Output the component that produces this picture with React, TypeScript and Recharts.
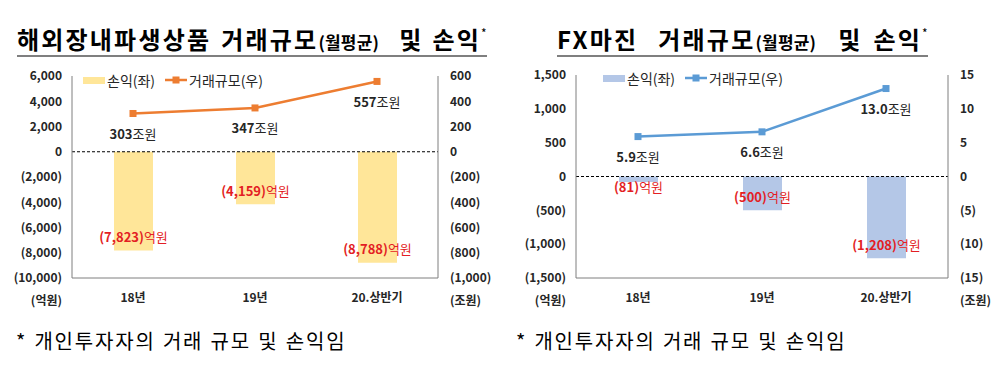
import React from 'react';
import { ComposedChart, Bar, Line, XAxis, YAxis, ReferenceLine, LabelList } from 'recharts';

const categories = ['18년', '19년', '20.상반기'];
const overseasPnl = [-7823, -4159, -8788];
const overseasVolume = [303, 347, 557];
const fxPnl = [-81, -500, -1208];
const fxVolume = [5.9, 6.6, 13.0];

const overseasLeftTicks = [-10000, -8000, -6000, -4000, -2000, 0, 2000, 4000, 6000];
const overseasRightTicks = [-1000, -800, -600, -400, -200, 0, 200, 400, 600];
const fxLeftTicks = [-1500, -1000, -500, 0, 500, 1000, 1500];
const fxRightTicks = [-15, -10, -5, 0, 5, 10, 15];

const FONT = '"Noto Sans CJK KR", "Noto Sans", sans-serif';
const RED = '#E31E24';

const fmtTick = (v: number) => {
  const s = Math.abs(v).toLocaleString('en-US');
  return v < 0 ? `(${s})` : s;
};

const SquareDot = (color: string) => (props: any) => {
  const { cx, cy } = props;
  if (cx == null || cy == null) return null;
  return <rect x={cx - 3.5} y={cy - 3.5} width={7} height={7} fill={color} />;
};

const BarLabel = (props: any) => {
  const { x, y, width, height, value } = props;
  const top = Math.min(y, y + height);
  const bottom = Math.max(y, y + height);
  const ly = Math.max(bottom - 13, top + 11);
  return (
    <text x={x + width / 2} y={ly} dy="0.35em" textAnchor="middle" fontFamily={FONT} fontSize={13} fill={RED}>
      <tspan fontWeight="bold">{`(${Math.abs(value).toLocaleString('en-US')})`}</tspan>
      <tspan>억원</tspan>
    </text>
  );
};

const makeLineLabel = (decimals: number) => (props: any) => {
  const { x, y, value } = props;
  return (
    <text x={x} y={y + 21} dy="0.35em" textAnchor="middle" fontFamily={FONT} fontSize={13} fill="#262626">
      <tspan fontWeight="bold">{Number(value).toFixed(decimals)}</tspan>
      <tspan>조원</tspan>
    </text>
  );
};

type PanelProps = {
  left: number;
  pnl: number[];
  volume: number[];
  leftTicks: number[];
  rightTicks: number[];
  barColor: string;
  lineColor: string;
  yAxisLeftWidth: number;
  yAxisRightWidth: number;
  top: number;
  decimals: number;
  legendLeft: number;
  legendTop: number;
};

const Panel = (p: PanelProps) => {
  const data = categories.map((c, i) => ({ name: c, pnl: p.pnl[i], volume: p.volume[i] }));
  const H = 320;
  const plotBottom = 278;
  return (
    <div style={{ position: 'absolute', left: p.left, top: 0, width: 500, height: H }}>
      <ComposedChart
        width={500}
        height={H}
        data={data}
        margin={{ top: p.top, right: 0, left: 0, bottom: H - plotBottom - 30 }}
      >
        <XAxis
          dataKey="name"
          tickLine={false}
          tickSize={0}
          tickMargin={15}
          height={30}
          axisLine={{ stroke: '#7f7f7f' }}
          tick={{ fontFamily: FONT, fontSize: 12, fontWeight: 'bold', fill: '#262626' }}
        />
        <YAxis
          yAxisId="left"
          orientation="left"
          domain={[p.leftTicks[0], p.leftTicks[p.leftTicks.length - 1]]}
          ticks={p.leftTicks}
          tickFormatter={fmtTick}
          width={p.yAxisLeftWidth}
          tickLine={false}
          tickSize={0}
          tickMargin={10}
          axisLine={{ stroke: '#7f7f7f' }}
          interval={0}
          allowDataOverflow
          tick={{ fontFamily: FONT, fontSize: 12, fontWeight: 'bold', fill: '#262626' }}
        />
        <YAxis
          yAxisId="right"
          orientation="right"
          domain={[p.rightTicks[0], p.rightTicks[p.rightTicks.length - 1]]}
          ticks={p.rightTicks}
          tickFormatter={fmtTick}
          width={p.yAxisRightWidth}
          tickLine={false}
          tickSize={0}
          tickMargin={12}
          axisLine={{ stroke: '#7f7f7f' }}
          interval={0}
          allowDataOverflow
          tick={{ fontFamily: FONT, fontSize: 12, fontWeight: 'bold', fill: '#262626', textAnchor: 'start' }}
        />
        <ReferenceLine yAxisId="left" y={0} stroke="#000" strokeDasharray="3 2" strokeWidth={1} />
        <Bar yAxisId="left" dataKey="pnl" fill={p.barColor} barSize={39} isAnimationActive={false}>
          <LabelList dataKey="pnl" content={BarLabel} />
        </Bar>
        <Line
          yAxisId="right"
          dataKey="volume"
          stroke={p.lineColor}
          strokeWidth={2.5}
          dot={SquareDot(p.lineColor)}
          activeDot={false}
          isAnimationActive={false}
        >
          <LabelList dataKey="volume" content={makeLineLabel(p.decimals)} />
        </Line>
      </ComposedChart>
      <div
        style={{
          position: 'absolute',
          left: p.legendLeft,
          top: p.legendTop,
          display: 'flex',
          alignItems: 'center',
          fontFamily: FONT,
          fontSize: 14,
          color: '#262626',
          whiteSpace: 'nowrap',
        }}
      >
        <span style={{ display: 'inline-block', width: 22, height: 7, background: p.barColor, marginRight: 2 }} />
        <span>손익(좌)</span>
        <svg width={22} height={10} style={{ marginLeft: 10, marginRight: 2 }}>
          <line x1={0} y1={5} x2={22} y2={5} stroke={p.lineColor} strokeWidth={2.5} />
          <rect x={7.5} y={1.5} width={7} height={7} fill={p.lineColor} />
        </svg>
        <span>거래규모(우)</span>
      </div>
      <div style={{ position: 'absolute', left: p.yAxisLeftWidth - 55, top: 291, width: 45, textAlign: 'right', fontFamily: FONT, fontSize: 12, fontWeight: 'bold', color: '#262626' }}>(억원)</div>
      <div style={{ position: 'absolute', left: 500 - p.yAxisRightWidth + 12, top: 291, fontFamily: FONT, fontSize: 12, fontWeight: 'bold', color: '#262626' }}>(조원)</div>
    </div>
  );
};

const Gap = ({ w }: { w: number }) => <span style={{ display: 'inline-block', width: w }} />;

const Title = ({ left, children }: { left: number; children: React.ReactNode }) => (
  <div
    style={{
      position: 'absolute',
      left,
      top: 26,
      fontFamily: FONT,
      fontWeight: 'bold',
      color: '#000',
      whiteSpace: 'nowrap',
      borderBottom: '2px solid #7f7f7f',
      lineHeight: '26px',
      display: 'flex',
      alignItems: 'baseline',
    }}
  >
    {children}
  </div>
);

const Big = ({ children }: { children: React.ReactNode }) => (
  <span style={{ fontSize: 24, letterSpacing: 2.2 }}>{children}</span>
);
const Small = ({ children }: { children: React.ReactNode }) => (
  <span style={{ fontSize: 17, letterSpacing: 0.2 }}>{children}</span>
);

const Star = () => (
  <span style={{ fontSize: 12, fontWeight: 'normal', alignSelf: 'flex-start', lineHeight: '14px' }}>*</span>
);

const footStyle: React.CSSProperties = {
  position: 'absolute',
  top: 328,
  lineHeight: '26px',
  fontFamily: FONT,
  fontSize: 20,
  letterSpacing: 1.8,
  wordSpacing: 1,
  color: '#000',
  whiteSpace: 'nowrap',
};

export default function App() {
  return (
    <div style={{ position: 'absolute', left: 0, top: 0, width: 1000, height: 369, background: '#fff', overflow: 'hidden' }}>
      <Title left={17}>
        <Big>해외장내파생상품</Big>
        <Gap w={10} />
        <Big>거래규모</Big>
        <Small>(월평균)</Small>
        <Gap w={20} />
        <Big>및</Big>
        <Gap w={9} />
        <Big>손익</Big>
        <Star />
      </Title>
      <Title left={557}>
        <Big>FX마진</Big>
        <Gap w={20} />
        <Big>거래규모</Big>
        <Small>(월평균)</Small>
        <Gap w={22} />
        <Big>및</Big>
        <Gap w={11} />
        <Big>손익</Big>
        <Star />
      </Title>
      <Panel
        left={0}
        pnl={overseasPnl}
        volume={overseasVolume}
        leftTicks={overseasLeftTicks}
        rightTicks={overseasRightTicks}
        barColor="#FFE699"
        lineColor="#ED7D31"
        yAxisLeftWidth={72}
        yAxisRightWidth={62}
        top={76}
        decimals={0}
        legendLeft={83}
        legendTop={70}
      />
      <Panel
        left={500}
        pnl={fxPnl}
        volume={fxVolume}
        leftTicks={fxLeftTicks}
        rightTicks={fxRightTicks}
        barColor="#B4C7E7"
        lineColor="#5B9BD5"
        yAxisLeftWidth={76}
        yAxisRightWidth={52}
        top={75}
        decimals={1}
        legendLeft={103}
        legendTop={68}
      />
      <div style={{ ...footStyle, left: 16 }}>* 개인투자자의 거래 규모 및 손익임</div>
      <div style={{ ...footStyle, left: 516 }}>* 개인투자자의 거래 규모 및 손익임</div>
    </div>
  );
}
